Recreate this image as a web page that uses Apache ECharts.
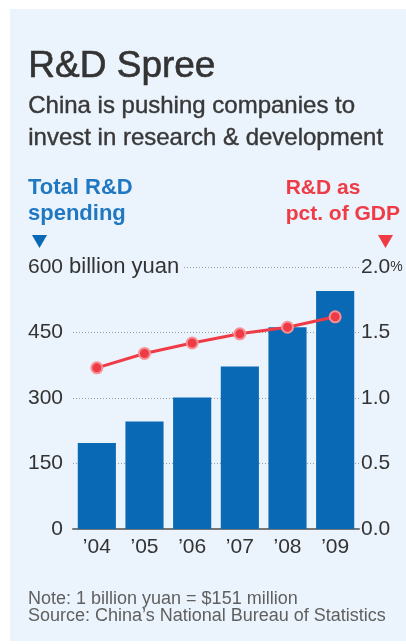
<!DOCTYPE html>
<html>
<head>
<meta charset="utf-8">
<script src="https://cdn.jsdelivr.net/npm/echarts@6/dist/echarts.min.js"></script>
<style>html,body{margin:0;padding:0;background:#fff}#c{width:406px;height:644px}</style>
</head>
<body>
<div id="c"></div>
<script>
var years = ['\u201904', '\u201905', '\u201906', '\u201907', '\u201908', '\u201909'];
var spending = [197, 246, 301, 372, 462, 545];
var pctGDP = [1.23, 1.34, 1.42, 1.49, 1.54, 1.62];
var leftTicks = [0, 150, 300, 450, 600];
var rightTicks = [0, 0.5, 1.0, 1.5, 2.0];

var FONT = '"Liberation Sans", Arial, sans-serif';
var BLUE = '#0a69b4';
var RED = '#ee3b45';
var chart = echarts.init(document.getElementById('c'), null, {renderer: 'canvas'});
chart.setOption({
  backgroundColor: '#ffffff',
  animation: false,
  textStyle: {fontFamily: FONT},
  grid: {left: 73, right: 47, top: 267, bottom: 115},
  graphic: [
    {type: 'rect', z: -10, shape: {x: 10, y: 9, width: 396, height: 632}, style: {fill: '#ebf3fc'}},
    {type: 'text', left: 28, top: 48, style: {text: 'R&D Spree', font: '37px ' + FONT, fill: '#333333', stroke: '#333333', lineWidth: 0.6}},
    {type: 'text', left: 28, top: 90, style: {text: 'China is pushing companies to\ninvest in research & development', font: '24px ' + FONT, fill: '#383838', stroke: '#383838', lineWidth: 0.4, lineHeight: 32}},
    {type: 'text', left: 28, top: 175, style: {text: 'Total R&D\nspending', font: 'bold 22px ' + FONT, fill: '#1f78c1', lineHeight: 26}},
    {type: 'text', right: 6, top: 175, style: {text: 'R&D as\npct. of GDP', font: 'bold 21px ' + FONT, fill: '#ee3b45', lineHeight: 26, align: 'right'}},
    {type: 'polygon', shape: {points: [[32, 235], [47, 235], [39.5, 248]]}, style: {fill: '#0a69b4'}},
    {type: 'polygon', shape: {points: [[378, 235], [393, 235], [385.5, 248]]}, style: {fill: '#ee3b45'}},
    {type: 'text', left: 28, top: 590, style: {text: 'Note: 1 billion yuan = $151 million\nSource: China\u2019s National Bureau of Statistics', font: '18px ' + FONT, fill: '#606060', lineHeight: 17}}
  ],
  xAxis: {
    type: 'category',
    data: years,
    axisLine: {show: true, lineStyle: {color: '#777', width: 2}},
    axisTick: {show: false},
    axisLabel: {color: '#333', fontSize: 21, margin: 8, fontFamily: FONT}
  },
  yAxis: [
    {
      type: 'value', min: 0, max: 600, interval: 150, position: 'left',
      axisLine: {show: false}, axisTick: {show: false},
      splitLine: {show: true, lineStyle: {color: '#9a9a9a', type: [1, 2], width: 1}},
      axisLabel: {
        align: 'left', margin: 45, color: '#333', fontSize: 21, fontFamily: FONT,
        formatter: function (v) {
          if (v === leftTicks[leftTicks.length - 1]) return '{n|' + v + '}{u| billion yuan}';
          return '{n|' + v + '}';
        },
        rich: {
          n: {width: 35, align: 'right', fontSize: 21, color: '#333', fontFamily: FONT},
          u: {fontSize: 22, color: '#333', fontFamily: FONT, backgroundColor: '#ebf3fc', padding: [0, 4, 0, 0]}
        }
      }
    },
    {
      type: 'value', min: 0, max: 2, interval: 0.5, position: 'right',
      axisLine: {show: false}, axisTick: {show: false}, splitLine: {show: false},
      axisLabel: {
        margin: 2, color: '#333', fontSize: 21, fontFamily: FONT,
        formatter: function (v) {
          var s = v.toFixed(1);
          if (v === rightTicks[rightTicks.length - 1]) return s + '{p|%}';
          return s;
        },
        rich: {p: {fontSize: 14, color: '#333', fontFamily: FONT}}
      }
    }
  ],
  series: [
    {
      type: 'bar', data: spending, yAxisIndex: 0, barCategoryGap: '20%',
      itemStyle: {color: BLUE}
    },
    {
      type: 'line', data: pctGDP, yAxisIndex: 1, symbol: 'circle', symbolSize: 11,
      lineStyle: {color: RED, width: 3},
      itemStyle: {color: RED, borderColor: '#f59195', borderWidth: 2},
      z: 5
    }
  ]
});
</script>
</body>
</html>
